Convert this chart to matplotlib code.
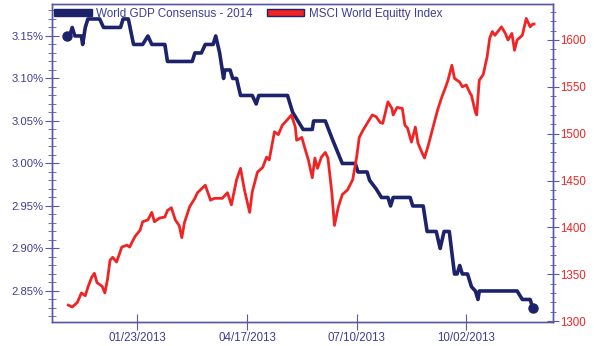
import numpy as np
import pandas as pd
import matplotlib
matplotlib.use("Agg")
from matplotlib import pyplot as plt, dates as mdates, ticker
from matplotlib.patches import Patch

plt.rcParams["font.family"] = ["Liberation Sans", "DejaVu Sans"]

START = "2012-11-30"
X_TICKS = ["2013-01-23", "2013-04-17", "2013-07-10", "2013-10-02"]

# World GDP consensus forecast for 2014 (%), days counted from START
gdp_day = [0, 2, 4, 6, 11, 12, 14, 16, 25, 28, 41, 43, 47, 51, 58, 62, 65, 75, 77,
           96, 98, 103, 106, 112, 114, 117, 119, 120, 121, 125, 127, 130, 133, 142,
           145, 147, 169, 173, 181, 188, 189, 198, 203, 211, 221, 223, 230, 232, 237,
           241, 246, 248, 250, 263, 265, 273, 276, 283, 286, 289, 293, 297, 299, 301,
           303, 307, 310, 313, 315, 316, 345, 349, 355, 357]
gdp_val = [3.15, 3.15, 3.16, 3.15, 3.15, 3.14, 3.16, 3.17, 3.17, 3.16, 3.16, 3.17,
           3.17, 3.14, 3.14, 3.15, 3.14, 3.14, 3.12, 3.12, 3.13, 3.13, 3.14, 3.14,
           3.15, 3.13, 3.11, 3.10, 3.11, 3.11, 3.10, 3.10, 3.08, 3.08, 3.07, 3.08,
           3.08, 3.06, 3.04, 3.04, 3.05, 3.05, 3.03, 3.00, 3.00, 2.99, 2.99, 2.98,
           2.97, 2.96, 2.96, 2.95, 2.96, 2.96, 2.95, 2.95, 2.92, 2.92, 2.90, 2.92,
           2.92, 2.87, 2.87, 2.88, 2.87, 2.87, 2.855, 2.85, 2.84, 2.85, 2.85, 2.84,
           2.84, 2.83]

# MSCI World equity index, days counted from START
msci_day = [1, 4, 8, 11, 14, 16, 19, 21, 23, 27, 29, 31, 33, 35, 38, 42, 46, 48, 52,
            56, 58, 62, 65, 67, 71, 75, 77, 80, 83, 86, 88, 90, 94, 98, 100, 106, 110,
            113, 119, 123, 126, 130, 133, 136, 140, 142, 146, 150, 153, 155, 159, 162,
            165, 169, 172, 175, 176, 180, 182, 185, 188, 190, 192, 195, 198, 200, 203,
            205, 208, 211, 215, 219, 222, 224, 227, 234, 237, 240, 242, 246, 249, 250,
            253, 257, 259, 261, 264, 267, 269, 272, 274, 277, 280, 284, 287, 290, 292,
            295, 297, 301, 303, 306, 309, 310, 313, 314, 315, 316, 319, 322, 324, 326,
            328, 333, 336, 338, 341, 343, 345, 349, 352, 355, 357, 358]
msci_val = [1317, 1315, 1320, 1330, 1327, 1336, 1347, 1351, 1341, 1337, 1330, 1344,
            1365, 1368, 1363, 1379, 1381, 1379, 1390, 1397, 1406, 1408, 1416, 1406,
            1410, 1411, 1418, 1421, 1408, 1402, 1389, 1405, 1422, 1431, 1437, 1445,
            1429, 1431, 1431, 1437, 1424, 1451, 1463, 1440, 1416, 1438, 1459, 1464,
            1475, 1472, 1502, 1499, 1509, 1515, 1520, 1507, 1493, 1496, 1486, 1472,
            1453, 1474, 1463, 1475, 1480, 1474, 1437, 1402, 1422, 1435, 1440, 1451,
            1475, 1496, 1504, 1520, 1518, 1512, 1511, 1534, 1527, 1520, 1528, 1527,
            1509, 1506, 1491, 1507, 1490, 1480, 1474, 1488, 1504, 1525, 1538, 1549,
            1557, 1573, 1559, 1555, 1550, 1552, 1543, 1541, 1523, 1520, 1539, 1557,
            1563, 1582, 1602, 1609, 1605, 1614, 1607, 1600, 1607, 1589, 1600, 1605,
            1623, 1614, 1617, 1617]

TXT = "#3d3d96"
SPINE = "#5858a8"
NAVY = "#1c236b"
RED = "#f02424"

start = pd.Timestamp(START)
gdp_dates = start + pd.to_timedelta(gdp_day, unit="D")
msci_dates = start + pd.to_timedelta(msci_day, unit="D")

fig = plt.figure(figsize=(5.94, 3.46), dpi=100)
ax = fig.add_axes([52 / 594, 1 - 322 / 346, 501 / 594, 318 / 346])
ax2 = ax.twinx()

ax.plot(gdp_dates, gdp_val, color=NAVY, lw=2.6, solid_joinstyle="round")
ax.plot(gdp_dates[[0, -1]], np.array(gdp_val)[[0, -1]], "o", color=NAVY, ms=6.5)
ax2.plot(msci_dates, msci_val, color=RED, lw=2.0)

ax.set_xlim(start - pd.Timedelta(days=11.5), start + pd.Timedelta(days=372.5))
ax.set_ylim(2.8135, 3.1876)
ax2.set_ylim(1299, 1638.4)

ax.xaxis.set_major_locator(ticker.FixedLocator(mdates.datestr2num(X_TICKS)))
ax.xaxis.set_major_formatter(mdates.DateFormatter("%m/%d/%Y"))
ax.yaxis.set_major_locator(ticker.MultipleLocator(0.05))
ax.yaxis.set_minor_locator(ticker.MultipleLocator(0.01))
ax.yaxis.set_major_formatter(ticker.FuncFormatter(lambda v, p: f"{v:.2f}%"))
ax2.yaxis.set_major_locator(ticker.MultipleLocator(50))
ax2.yaxis.set_minor_locator(ticker.MultipleLocator(10))

for a in (ax, ax2):
    for s in a.spines.values():
        s.set_color(SPINE)
        s.set_linewidth(1.0)
ax.tick_params(axis="x", direction="inout", length=12, color=SPINE, labelcolor=TXT,
               labelsize=8.3, pad=1)
ax.tick_params(axis="y", which="major", direction="inout", length=10, color=SPINE,
               labelcolor=TXT, labelsize=8.1, pad=1)
ax.tick_params(axis="y", which="minor", direction="inout", length=6, color=SPINE)
ax2.tick_params(axis="y", which="major", direction="inout", length=9, color=SPINE,
                labelcolor=RED, labelsize=8.3, pad=1)
ax2.tick_params(axis="y", which="minor", direction="inout", length=5, color=SPINE)

handles = [Patch(facecolor=NAVY, edgecolor=NAVY, lw=1.0),
           Patch(facecolor=RED, edgecolor=NAVY, lw=1.0)]
labels = ["World GDP Consensus - 2014", "MSCI World Equitty Index"]
leg = ax2.legend(handles, labels, loc="upper left", bbox_to_anchor=(0.0, 0.995),
                 ncol=2, frameon=False, fontsize=8.4, handlelength=3.2,
                 handleheight=0.55, handletextpad=0.4, columnspacing=1.2,
                 borderpad=0.1, borderaxespad=0.1)
for t in leg.get_texts():
    t.set_color(TXT)

fig.savefig("out.png", dpi=100)
